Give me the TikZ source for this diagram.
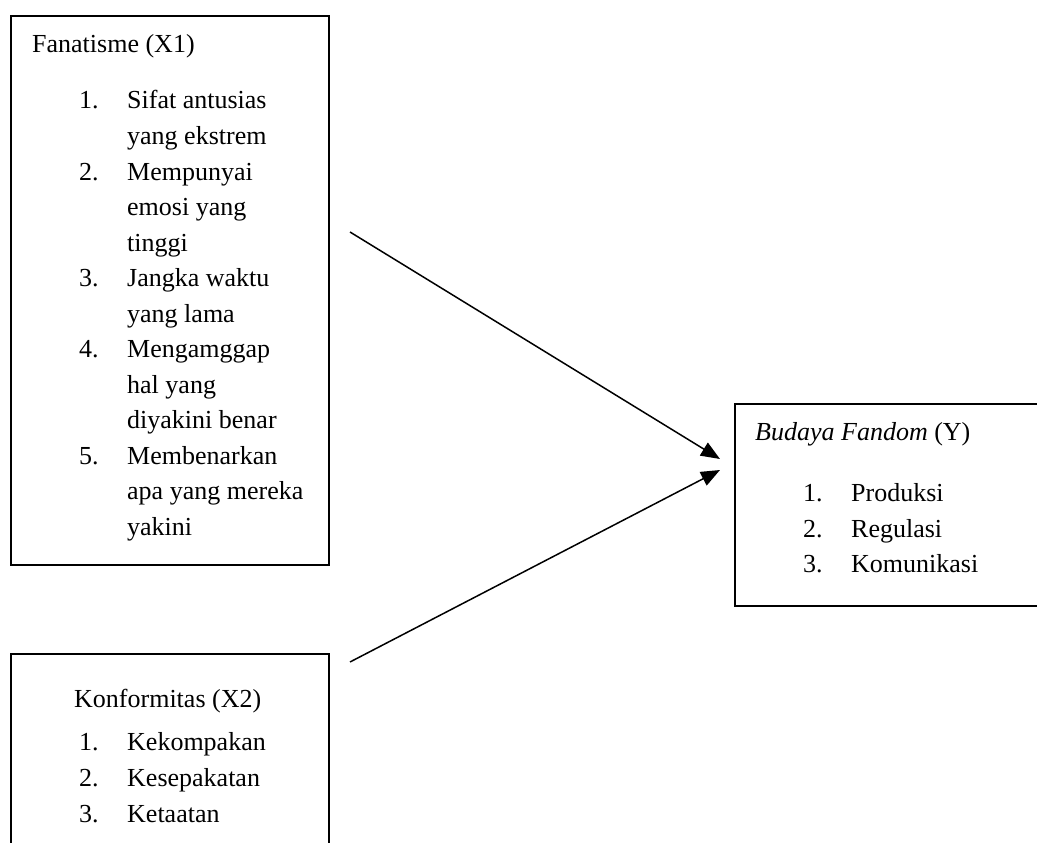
\documentclass[tikz,border=0pt]{standalone}
\usepackage{fontspec}
\setmainfont{Liberation Serif}
\usetikzlibrary{arrows.meta}
\begin{document}
\begin{tikzpicture}[x=1pt,y=-1pt,
  box/.style={draw, line width=1.8pt, inner sep=0pt, anchor=north west},
  txt/.style={anchor=base west, inner sep=0pt, font=\fontsize{26}{30}\selectfont},
  arr/.style={line width=1.5pt, -{Triangle[length=19pt,width=15pt]}}]
\useasboundingbox (0,0) rectangle (1037,843);
% boxes
\node[box, minimum width=318pt, minimum height=549pt] (X1) at (10,15) {};
\node[box, minimum width=318pt, minimum height=230pt] (X2) at (10,653) {};
\node[box, minimum width=305pt, minimum height=202pt] (Y) at (734,403) {};
% X1 texts
\node[txt] (x1t) at (32,53) {Fanatisme (X1)};
\node[txt] (x1n1) at (79,109) {1.};
\node[txt] (x1a) at (127,109) {Sifat antusias};
\node[txt] (x1b) at (127,144.5) {yang ekstrem};
\node[txt] (x1n2) at (79,180) {2.};
\node[txt] (x1c) at (127,180) {Mempunyai};
\node[txt] (x1d) at (127,215.5) {emosi yang};
\node[txt] (x1e) at (127,251) {tinggi};
\node[txt] (x1n3) at (79,286.5) {3.};
\node[txt] (x1f) at (127,286.5) {Jangka waktu};
\node[txt] (x1g) at (127,322) {yang lama};
\node[txt] (x1n4) at (79,357.5) {4.};
\node[txt] (x1h) at (127,357.5) {Mengamggap};
\node[txt] (x1i) at (127,393) {hal yang};
\node[txt] (x1j) at (127,428.5) {diyakini benar};
\node[txt] (x1n5) at (79,464) {5.};
\node[txt] (x1k) at (127,464) {Membenarkan};
\node[txt] (x1l) at (127,499.5) {apa yang mereka};
\node[txt] (x1m) at (127,535) {yakini};
% X2 texts
\node[txt] (x2t) at (74,707) {Konformitas (X2)};
\node[txt] (x2n1) at (79,750) {1.};
\node[txt] (x2a) at (127,750) {Kekompakan};
\node[txt] (x2n2) at (79,786) {2.};
\node[txt] (x2b) at (127,786) {Kesepakatan};
\node[txt] (x2n3) at (79,822) {3.};
\node[txt] (x2c) at (127,822) {Ketaatan};
% Y texts
\node[txt] (yt) at (755,440) {\textit{Budaya Fandom} (Y)};
\node[txt] (yn1) at (803,501) {1.};
\node[txt] (ya) at (851,501) {Produksi};
\node[txt] (yn2) at (803,537) {2.};
\node[txt] (yb) at (851,537) {Regulasi};
\node[txt] (yn3) at (803,572) {3.};
\node[txt] (yc) at (851,572) {Komunikasi};
% arrows
\coordinate (a1s) at (350,232);
\coordinate (a1e) at (720,459);
\coordinate (a2s) at (350,662);
\coordinate (a2e) at (720,470);
\draw[arr] (a1s) -- (a1e);
\draw[arr] (a2s) -- (a2e);
\end{tikzpicture}
\end{document}
